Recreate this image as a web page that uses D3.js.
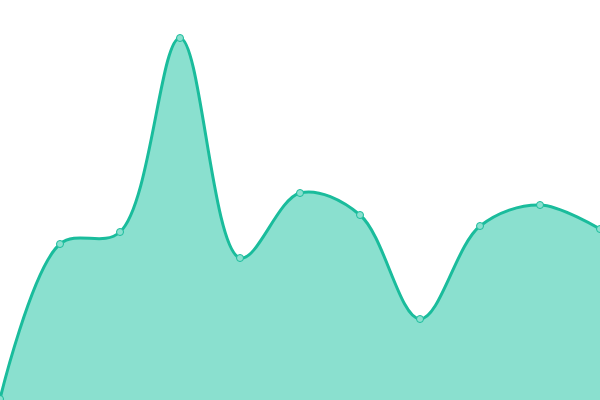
<!DOCTYPE html>
<html>
<head>
<meta charset="utf-8">
<script src="https://cdn.jsdelivr.net/npm/d3@7"></script>
<style>
  body { margin: 0; background: #fff; }
  svg { display: block; }
</style>
</head>
<body>
<div id="chart"></div>
<script>
var width = 600, height = 400;

// one value per step along x
var steps = [0, 1, 2, 3, 4, 5, 6, 7, 8, 9, 10];
var values = [1, 156, 168, 362, 142, 207, 185, 81, 174, 195, 171];

var svg = d3.select("#chart").append("svg")
    .attr("width", width)
    .attr("height", height);

var x = d3.scaleLinear().domain([0, 10]).range([0, width]);
var y = d3.scaleLinear().domain([0, 400]).range([height, 0]);

var data = steps.map(function (s, i) { return { s: s, v: values[i] }; });

var curve = d3.curveCatmullRom.alpha(0.5);

var area = d3.area()
    .x(function (d) { return x(d.s); })
    .y0(height)
    .y1(function (d) { return y(d.v); })
    .curve(curve);

var line = d3.line()
    .x(function (d) { return x(d.s); })
    .y(function (d) { return y(d.v); })
    .curve(curve);

svg.append("path")
    .datum(data)
    .attr("d", area)
    .attr("fill", "#8ae0cf");

svg.append("path")
    .datum(data)
    .attr("d", line)
    .attr("fill", "none")
    .attr("stroke", "#1abc9c")
    .attr("stroke-width", 3);

svg.selectAll("circle")
    .data(data)
    .enter().append("circle")
    .attr("cx", function (d) { return x(d.s); })
    .attr("cy", function (d) { return y(d.v); })
    .attr("r", 3.5)
    .attr("fill", "#8ae0cf")
    .attr("stroke", "#1abc9c")
    .attr("stroke-width", 1);
</script>
</body>
</html>
